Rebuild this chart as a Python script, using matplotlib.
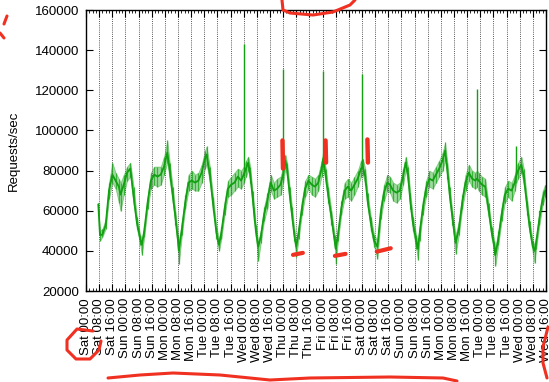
#!/usr/bin/env python
""" Requests/sec over two weeks, gnuplot-style time series """
import matplotlib
matplotlib.use('Agg')
import matplotlib.pyplot as plt
from matplotlib.lines import Line2D
from matplotlib.ticker import MultipleLocator, FixedLocator

plt.rcParams['font.family'] = ['Liberation Sans', 'DejaVu Sans']

# hours since Sat 00:00, centre value, low and high edge of the noisy band
hours = [7.5, 8.5, 10, 12, 14, 16, 18, 20, 21, 23, 25, 27, 29, 31, 33, 34, 35.5,
         37.5, 39.5, 41.5, 43.5, 45.5, 47.5, 49.5, 51, 52.8, 54.4, 56, 56.5, 58.4,
         60.4, 62.4, 64.4, 66.4, 68.4, 70.4, 72.4, 73.4, 75.4, 77.4, 79.4, 81,
         82.4, 84.4, 86.4, 88.4, 90.4, 92.4, 94.4, 96, 97.4, 98.8, 100, 101.4,
         102.4, 103.4, 104.8, 106.4, 108.4, 110.4, 112.4, 114.4, 116.4, 118.4,
         120, 121.4, 122.4, 124, 125.4, 126.8, 128, 129.4, 131.4, 133.4, 135.4,
         137.4, 139.4, 141.4, 143.4, 144.4, 146, 147.4, 149.4, 151.4, 152, 153.4,
         155.4, 157.4, 159.4, 161.4, 163.4, 165.4, 167.4, 168.4, 170, 171.4,
         173.4, 175.4, 177.4, 179.4, 181.4, 183.4, 185, 187, 189, 191, 193,
         194.6, 196, 197.4, 199, 201, 202, 203, 205, 207, 209, 211, 213, 215,
         217, 218.6, 220, 221.4, 223, 225, 227, 229, 231, 233, 235, 237, 238,
         239, 241, 243, 245, 247, 248.6, 249.2, 251, 253, 255, 257, 259, 261,
         262, 263, 265, 266.5, 268.6, 270, 272, 273, 274, 276, 278, 279.5]
mid = [63000, 48000, 48000, 53000, 70000, 78000, 75000, 72000, 68000, 73000,
       79000, 81000, 67000, 54000, 46000, 43000, 50000, 64000, 75000, 78000,
       77000, 78000, 82000, 89000, 80000, 68000, 57000, 45000, 40000, 51000,
       64000, 74000, 75000, 74000, 75000, 79000, 86000, 88000, 78000, 63000,
       49000, 43000, 49000, 61000, 71000, 73000, 74000, 77000, 75000, 78000,
       81000, 84000, 78000, 67000, 58000, 50000, 42000, 47000, 58000, 65000,
       74000, 70000, 71000, 73000, 78000, 85000, 81000, 68000, 58000, 48000,
       42000, 49000, 61000, 71000, 75000, 73000, 72000, 74000, 81000, 86000,
       77000, 68000, 57000, 45000, 41000, 48000, 61000, 70000, 72000, 70000,
       73000, 76000, 81000, 82000, 77000, 65000, 54000, 45000, 42000, 59000,
       69000, 74000, 73000, 70000, 69000, 70000, 77000, 84000, 78000, 65000,
       54000, 45000, 41000, 48000, 61000, 71000, 76000, 75000, 78000, 81000,
       85000, 90000, 80000, 68000, 57000, 44000, 51000, 64000, 74000, 79000,
       76000, 75000, 76000, 75000, 73000, 72000, 61000, 49000, 42000, 38000,
       46000, 58000, 68000, 71000, 70000, 74000, 78000, 80000, 83000, 77000,
       62000, 52000, 42000, 40000, 44000, 56000, 66000, 70000]
low = [62000, 45000, 47000, 51000, 66000, 74000, 71000, 64000, 60000, 68000,
       75000, 77000, 63000, 51000, 43000, 38000, 47000, 61000, 71000, 73000,
       72000, 73000, 78000, 84000, 75000, 64000, 53000, 41000, 33500, 48000,
       61000, 70000, 71000, 70000, 70000, 74000, 81000, 83000, 74000, 60000,
       46000, 40000, 46000, 58000, 67000, 68000, 70000, 72000, 71000, 74000,
       77000, 80000, 74000, 63000, 55000, 47000, 35000, 44000, 55000, 61000,
       70000, 66000, 67000, 68000, 74000, 81000, 77000, 64000, 55000, 45000,
       37000, 46000, 58000, 67000, 71000, 68000, 67000, 70000, 77000, 82000,
       73000, 64000, 53000, 42000, 33500, 45000, 58000, 66000, 67000, 65000,
       68000, 72000, 77000, 78000, 73000, 62000, 50000, 42000, 36000, 56000,
       65000, 70000, 69000, 65000, 64000, 66000, 73000, 80000, 74000, 61000,
       50000, 41000, 35500, 45000, 58000, 67000, 72000, 71000, 74000, 77000,
       80000, 85000, 76000, 64000, 53000, 38500, 48000, 61000, 70000, 75000,
       72000, 71000, 72000, 70000, 68000, 67000, 57000, 46000, 38000, 32500,
       43000, 55000, 64000, 67000, 65000, 70000, 74000, 76000, 79000, 73000,
       58000, 49000, 39000, 34000, 41000, 53000, 63000, 67000]
high = [64000, 50000, 51000, 56000, 74000, 84000, 79000, 76000, 74000, 78000,
        82000, 84000, 72000, 57000, 48000, 46000, 53000, 67000, 79000, 82000,
        82000, 82000, 87000, 95000, 84000, 72000, 60000, 48000, 44000, 55000,
        68000, 78000, 80000, 78000, 79000, 83000, 90000, 92000, 82000, 67000,
        52000, 46000, 52000, 65000, 75000, 77000, 79000, 81000, 80000, 82000,
        85000, 87000, 82000, 70000, 62000, 53000, 45000, 50000, 62000, 69000,
        78000, 74000, 76000, 77000, 82000, 88000, 84000, 72000, 62000, 51000,
        45000, 52000, 65000, 75000, 78000, 77000, 76000, 78000, 85000, 89000,
        81000, 72000, 60000, 48000, 44000, 51000, 65000, 74000, 76000, 74000,
        77000, 80000, 85000, 86000, 81000, 69000, 57000, 48000, 45000, 63000,
        73000, 78000, 77000, 74000, 73000, 74000, 81000, 87000, 82000, 69000,
        57000, 48000, 44000, 52000, 65000, 75000, 80000, 79000, 82000, 85000,
        89000, 94000, 84000, 72000, 60000, 48000, 55000, 68000, 78000, 83000,
        80000, 79000, 80000, 79000, 77000, 76000, 64000, 52000, 45000, 42000,
        50000, 62000, 72000, 75000, 74000, 78000, 82000, 84000, 87000, 81000,
        65000, 55000, 45000, 43000, 47000, 60000, 70000, 73000]

# short spikes at midnight
spike_hours = [96, 120, 144, 168, 238, 262]
spike_base = [78000, 78000, 86000, 82000, 76000, 78000]
spike_top = [143000, 130600, 129800, 128000, 120600, 92000]

days = ['Sat', 'Sun', 'Mon', 'Tue', 'Wed', 'Thu', 'Fri',
        'Sat', 'Sun', 'Mon', 'Tue', 'Wed']
clock = ['00:00', '08:00', '16:00']

# red pen marks drawn over the chart (data coords inside the axes)
pen_vertical = [(119.6, 81000, 95000), (145.8, 84000, 95000), (171.3, 84000, 95500)]
pen_flat = [(126, 38000, 132, 39000), (151.5, 37500, 158, 38500),
            (177, 39600, 185.5, 41300)]
# red pen marks outside the axes, in pixels from the top-left corner
pen_outside = [
    [(4, 24), (7, 16)],
    [(0, 33), (4, 38)],
    [(282, 0), (283, 10), (290, 13), (313, 15), (333, 12), (350, 5), (355, 0)],
    [(93, 331), (77, 329), (67, 340), (67, 350), (76, 359), (90, 359), (99, 350), (101, 341)],
    [(108, 378), (140, 375), (173, 373), (220, 375), (270, 380), (310, 378),
     (390, 377), (443, 378), (457, 381)],
    [(548, 327), (543, 347), (543, 363), (547, 378)],
]

W, H = 549, 382
fig = plt.figure(figsize=(W / 100, H / 100), dpi=100)
ax = fig.add_axes([86 / W, 1 - 291 / H, 460 / W, 281 / H])

green = '#10a010'
ax.fill_between(hours, low, high, color=green, alpha=0.4, lw=0.6)
ax.vlines(hours, low, high, color=green, lw=0.9, alpha=0.7)
ax.plot(hours, mid, color=green, lw=1.3)
ax.vlines(spike_hours, spike_base, spike_top, color=green, lw=1.0)

labels = ['{} {}'.format(d, c) for d in days for c in clock]
ticks = [8 * i for i in range(len(labels))]
ax.set_xlim(0, ticks[-1])
ax.set_ylim(20000, 160000)
ax.xaxis.set_major_locator(FixedLocator(ticks))
ax.set_xticklabels(labels, rotation=90, fontsize=9.5)
ax.xaxis.set_minor_locator(MultipleLocator(2))
ax.yaxis.set_major_locator(MultipleLocator(20000))
ax.tick_params(axis='y', labelsize=9.5)
ax.tick_params(which='major', direction='in', top=True, right=True, length=5, width=0.8, pad=5)
ax.tick_params(which='minor', direction='in', top=True, length=2.5, width=0.6)
ax.grid(axis='x', color='0.35', linestyle=(0, (1, 1.2)), lw=0.7)
for s in ax.spines.values():
    s.set_linewidth(1.0)
ax.set_ylabel('Requests/sec', fontsize=9.5, labelpad=11)

red = '#f03020'
for h, y0, y1 in pen_vertical:
    ax.plot([h, h + 0.3], [y1, y0], color=red, lw=3.2, solid_capstyle='round')
for h0, y0, h1, y1 in pen_flat:
    ax.plot([h0, h1], [y0, y1], color=red, lw=3.0, solid_capstyle='round')
for stroke in pen_outside:
    xs = [p[0] / W for p in stroke]
    ys = [1 - p[1] / H for p in stroke]
    fig.add_artist(Line2D(xs, ys, color=red, lw=2.2, solid_capstyle='round',
                          transform=fig.transFigure))

fig.savefig('out.png', dpi=100)
